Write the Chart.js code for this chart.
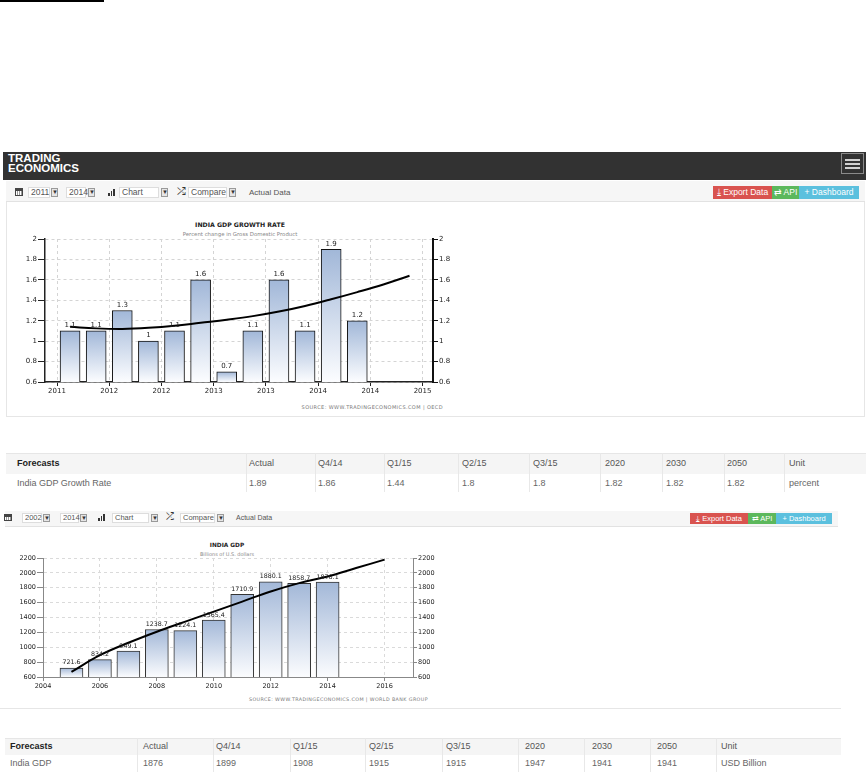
<!DOCTYPE html>
<html>
<head>
<meta charset="utf-8">
<script src="https://cdn.jsdelivr.net/npm/chart.js@4.4.0/dist/chart.umd.min.js"></script>
<style>
  body { margin:0; width:866px; height:772px; position:relative; overflow:hidden; background:#fff;
         font-family:"Liberation Sans", Arial, sans-serif; }
  canvas { position:absolute; }
  .t { position:absolute; white-space:nowrap; }
</style>
</head>
<body>
<div id="page"></div>
<canvas id="growthChart" width="470" height="210" style="left:0;top:203px"></canvas>
<canvas id="gdpChart" width="440" height="158" style="left:0;top:536px"></canvas>
<script>
// India GDP growth rate, quarterly
const growthQuarters = ['Q4 2011','Q1 2012','Q2 2012','Q3 2012','Q4 2012','Q1 2013','Q2 2013','Q3 2013','Q4 2013','Q1 2014','Q2 2014','Q3 2014'];
const growthValues = [1.1, 1.1, 1.3, 1.0, 1.1, 1.6, 0.7, 1.1, 1.6, 1.1, 1.9, 1.2];
const growthTrend = [1.14, 1.125, 1.12, 1.13, 1.15, 1.18, 1.21, 1.245, 1.29, 1.345, 1.41, 1.48, 1.555, 1.64];
const growthXLabels = ['2011','2012','2012','2013','2013','2014','2014','2015'];

// India GDP, billions of USD
const gdpYears = [2005, 2006, 2007, 2008, 2009, 2010, 2011, 2012, 2013, 2014];
const gdpValues = [721.6, 834.2, 949.1, 1238.7, 1224.1, 1365.4, 1710.9, 1880.1, 1858.7, 1876.1];
const gdpTrendYears = [2005, 2006, 2007, 2008, 2009, 2010, 2011, 2012, 2013, 2014, 2015, 2016];
const gdpTrend = [668, 893, 1060, 1209, 1344, 1479, 1614, 1750, 1862, 1952, 2065, 2178];
const gdpXTicks = [2004, 2006, 2008, 2010, 2012, 2014, 2016];

// forecast tables
const forecastHeads = ['Forecasts','Actual','Q4/14','Q1/15','Q2/15','Q3/15','2020','2030','2050','Unit'];
const growthForecast = ['India GDP Growth Rate','1.89','1.86','1.44','1.8','1.8','1.82','1.82','1.82','percent'];
const gdpForecast = ['India GDP','1876','1899','1908','1915','1915','1947','1941','1941','USD Billion'];

const page = document.getElementById('page');

function put(x, y, w, h, css, text){
  const d = document.createElement('div');
  d.className = 't';
  d.style.cssText += `left:${x}px;top:${y}px;width:${w}px;height:${h}px;${css || ''}`;
  if (text != null) d.textContent = text;
  page.appendChild(d);
  return d;
}

// ---- page chrome ----
put(0, 0, 104, 2, 'background:#000');
put(3, 152, 863, 28, 'background:#323232');
put(8, 153, 100, 22, 'color:#fff;font-weight:bold;font-size:11.5px;line-height:10px;white-space:pre', 'TRADING\nECONOMICS');
put(841, 153, 23, 21, 'border:1px solid #8a8a8a;box-sizing:border-box');
[159, 163, 167].forEach(y => put(845, y, 15, 2, 'background:#d0d0d0'));

function toolbar(o){
  put(o.x, o.y, o.w, o.h, 'background:#f6f6f6;border-bottom:1px solid #e2e2e2;box-sizing:border-box');
  const fs = o.fs, by = o.by, bh = o.bh;
  // little calendar icon
  put(o.cal, by + 1, 8, bh - 3, 'background:#444;border:1px solid #444;box-sizing:border-box');
  put(o.cal + 1, by + 3.5, 6, bh - 6.5, 'background:repeating-linear-gradient(90deg,#fff 0 1px,#999 1px 2px)');
  o.sels.forEach(s => {
    put(s[0], by, s[1], bh, `border:1px solid #ddd;background:#fff;box-sizing:border-box;font-size:${fs}px;line-height:${bh-2}px;padding-left:2px;color:#555`, s[2]);
    put(s[3], by + 1, 7, bh - 2, `border:1px solid #999;background:#e6e6e6;box-sizing:border-box;font-size:6px;line-height:${bh-4}px;text-align:center;color:#333`, '▼');
  });
  [3, 5, 7].forEach((hh, i) => put(o.bars + i * 2.5, by + bh - 2 - hh, 1.5, hh, 'background:#333'));
  put(o.shuf, by - 1, 12, bh, `font-size:${fs + 2}px;line-height:${bh}px;color:#333;font-family:"DejaVu Sans"`, '⤮');
  put(o.actual, by, 60, bh, `font-size:${fs - 0.5}px;line-height:${bh}px;color:#555`, 'Actual Data');
  const btn = `color:#fff;font-size:${fs}px;line-height:${o.btnH}px;text-align:center;`;
  put(o.btn[0], o.btnY, o.btn[1] - o.btn[0], o.btnH, btn + 'background:#d9534f', '⤓ Export Data');
  put(o.btn[1], o.btnY, o.btn[2] - o.btn[1], o.btnH, btn + 'background:#5cb85c', '⇄ API');
  put(o.btn[2], o.btnY, o.btn[3] - o.btn[2], o.btnH, btn + 'background:#5bc0de', '+ Dashboard');
}

toolbar({x:6, y:181, w:859, h:21, fs:8.5, by:187, bh:11, cal:15,
  sels:[[28,22,'2011',51],[66,20,'2014',88],[119,40,'Chart',161],[188,39,'Compare',229]],
  bars:108, shuf:177, actual:249, btnY:186, btnH:13, btn:[713,772,799,859]});
toolbar({x:5, y:511, w:833, h:16, fs:7.5, by:513, bh:10, cal:4,
  sels:[[22,20,'2002',43],[60,19,'2014',80],[112,37,'Chart',151],[180,35,'Compare',217]],
  bars:98, shuf:166, actual:236, btnY:513, btnH:11, btn:[690,748,776,832]});

// chart frames and captions
put(6, 202, 859, 215, 'border:1px solid #e6e6e6;border-top:none;box-sizing:border-box');
put(0, 708, 841, 1, 'background:#e6e6e6');
put(120, 220, 240, 9, 'font-family:"DejaVu Sans";font-weight:bold;font-size:6.2px;line-height:9px;text-align:center;color:#222', 'INDIA GDP GROWTH RATE');
put(120, 230, 240, 8, 'font-family:"DejaVu Sans";font-size:5.4px;line-height:8px;text-align:center;color:#888', 'Percent change in Gross Domestic Product');
put(143, 403, 300, 8, 'font-family:"DejaVu Sans";font-size:5px;line-height:8px;text-align:right;color:#777;letter-spacing:0.4px', 'SOURCE: WWW.TRADINGECONOMICS.COM | OECD');
put(107, 541, 240, 8, 'font-family:"DejaVu Sans";font-weight:bold;font-size:5.8px;line-height:8px;text-align:center;color:#222', 'INDIA GDP');
put(107, 550, 240, 8, 'font-family:"DejaVu Sans";font-size:5px;line-height:8px;text-align:center;color:#888', 'Billions of U.S. dollars');
put(128, 696, 300, 8, 'font-family:"DejaVu Sans";font-size:4.8px;line-height:8px;text-align:right;color:#777;letter-spacing:0.4px', 'SOURCE: WWW.TRADINGECONOMICS.COM | WORLD BANK GROUP');

// ---- forecast tables ----
function table(top, edges, textX, hh, rh, heads, row){
  const x0 = edges[0], w = edges[edges.length - 1] - x0;
  put(x0, top, w, hh, 'background:#f5f5f5;border-top:1px solid #e6e6e6;box-sizing:border-box');
  edges.slice(1, -1).forEach(e => put(e, top, 1, hh + rh, 'background:#e8e8e8'));
  heads.forEach((h, i) => put(textX[i], top, 150, hh,
    `font-size:9px;line-height:${hh}px;color:${i ? '#555' : '#222'};font-weight:${i ? 'normal' : 'bold'};width:auto`, h));
  row.forEach((v, i) => put(textX[i], top + hh, 150, rh, `font-size:9px;line-height:${rh}px;color:#666;width:auto`, v));
}
table(453, [6,246,315,384,458,529,600,662,724,784,866], [17,249,318,387,462,533,605,666,727,789], 21, 18, forecastHeads, growthForecast);
table(738, [5,137,213,290,365,442,518,584,650,716,841], [10,143,216,293,369,446,525,592,657,721], 17, 17, forecastHeads, gdpForecast);

// ---- charts ----
function barFill(top, bottom){
  return (c) => {
    const chart = c.chart, area = chart.chartArea;
    if (!area || c.type !== 'data' || !chart.scales.y) return top;
    const y = chart.scales.y.getPixelForValue(c.raw.y);
    const g = chart.ctx.createLinearGradient(0, y, 0, area.bottom);
    g.addColorStop(0, top);
    g.addColorStop(1, bottom);
    return g;
  };
}

const valueLabels = {
  id: 'valueLabels',
  afterDatasetsDraw(chart, args, opts){
    const meta = chart.getDatasetMeta(1);
    const ds = chart.data.datasets[1];
    const ctx = chart.ctx;
    ctx.save();
    ctx.font = opts.font;
    ctx.fillStyle = opts.color;
    ctx.textAlign = 'center';
    ctx.textBaseline = 'bottom';
    meta.data.forEach((bar, i) => ctx.fillText(String(ds.data[i].y), bar.x, bar.y - 2));
    ctx.restore();
  }
};

function axisY(pos, width, font, color, borderCol, borderW, gridCol, onArea, min, max, step, dec, tl){
  return {
    position: pos, min, max,
    ticks: { stepSize: step, font, color, padding: 1, callback: v => String(+v.toFixed(dec)) },
    grid: { color: gridCol, drawOnChartArea: onArea, tickColor: borderCol, tickLength: tl },
    border: { color: borderCol, width: borderW, dash: [3, 3] },
    afterFit: s => { s.width = width; }
  };
}

const f1 = { family: 'DejaVu Sans', size: 7 };
new Chart(document.getElementById('growthChart'), {
  type: 'bar',
  data: { datasets: [
    { type: 'line', data: growthTrend.map((v, i) => ({ x: i, y: v })),
      borderColor: '#000', borderWidth: 2, pointRadius: 0, tension: 0.4, fill: false },
    { type: 'bar', label: 'India GDP Growth Rate',
      data: growthQuarters.map((q, i) => ({ x: i, y: growthValues[i] })),
      backgroundColor: barFill('#a1b7d8', '#fcfdff'), borderColor: '#111', borderWidth: 1,
      borderSkipped: false, barThickness: 20 }
  ]},
  options: {
    responsive: false, animation: false,
    layout: { padding: { top: 36, left: 0, right: 0, bottom: 0 } },
    plugins: { legend: { display: false }, tooltip: { enabled: false },
               valueLabels: { font: '7px "DejaVu Sans"', color: '#222' } },
    scales: {
      x: { type: 'linear', min: -0.96, max: 13.9, offset: false,
           afterBuildTicks: s => { s.ticks = growthXLabels.map((l, i) => ({ value: 2 * i - 0.5 })); },
           ticks: { font: f1, color: '#222', padding: 1, maxRotation: 0, autoSkip: false,
                    callback: (v, i) => growthXLabels[i] },
           grid: { offset: false, color: '#d4d4d4', tickColor: '#222', tickLength: 4 },
           border: { color: '#222', width: 1.5, dash: [3, 3] },
           afterFit: s => { s.height = 31; } },
      y: axisY('left', 45, f1, '#222', '#222', 1.5, '#d4d4d4', true, 0.6, 2, 0.2, 1, 7),
      y2: axisY('right', 37, f1, '#222', '#111', 2, '#d4d4d4', false, 0.6, 2, 0.2, 1, 5)
    }
  },
  plugins: [valueLabels]
});

const f2 = { family: 'DejaVu Sans', size: 6.5 };
new Chart(document.getElementById('gdpChart'), {
  type: 'bar',
  data: { datasets: [
    { type: 'line', data: gdpTrendYears.map((yr, i) => ({ x: yr, y: gdpTrend[i] })),
      borderColor: '#000', borderWidth: 2, pointRadius: 0, tension: 0.4, fill: false },
    { type: 'bar', label: 'India GDP',
      data: gdpYears.map((yr, i) => ({ x: yr, y: gdpValues[i] })),
      backgroundColor: barFill('#a3b8d8', '#fbfcfe'), borderColor: '#333', borderWidth: 1,
      borderSkipped: false, barThickness: 23 }
  ]},
  options: {
    responsive: false, animation: false,
    layout: { padding: { top: 22, left: 0, right: 0, bottom: 0 } },
    plugins: { legend: { display: false }, tooltip: { enabled: false },
               valueLabels: { font: '6.3px "DejaVu Sans"', color: '#222' } },
    scales: {
      x: { type: 'linear', min: 2004, max: 2017, offset: false,
           afterBuildTicks: s => { s.ticks = gdpXTicks.map(v => ({ value: v })); },
           ticks: { font: f2, color: '#222', padding: 1, maxRotation: 0, autoSkip: false,
                    callback: v => String(v) },
           grid: { offset: false, color: '#dadada', tickColor: '#888', tickLength: 4 },
           border: { color: '#888', width: 1, dash: [3, 3] },
           afterFit: s => { s.height = 17; } },
      y: axisY('left', 43, f2, '#222', '#888', 1, '#dadada', true, 600, 2200, 200, 0, 6),
      y2: axisY('right', 27, f2, '#222', '#888', 1, '#dadada', false, 600, 2200, 200, 0, 4)
    }
  },
  plugins: [valueLabels]
});
</script>
</body>
</html>
